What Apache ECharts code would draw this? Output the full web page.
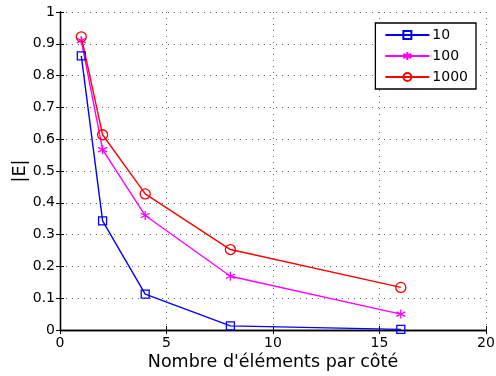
<!DOCTYPE html>
<html><head><meta charset="utf-8">
<script src="https://cdn.jsdelivr.net/npm/echarts@6/dist/echarts.min.js"></script>
<style>html,body{margin:0;padding:0;background:#fff}#c{width:496px;height:376px}</style>
</head><body><div id="c"></div>
<script>
const xValues = [1, 2, 4, 8, 16];
const series10 = [0.862, 0.343, 0.113, 0.013, 0.002];
const series100 = [0.910, 0.567, 0.360, 0.169, 0.050];
const series1000 = [0.922, 0.614, 0.428, 0.253, 0.134];
const seriesNames = ['10', '100', '1000'];
const xTicks = [0, 5, 10, 15, 20];
const yTicks = [0, 0.1, 0.2, 0.3, 0.4, 0.5, 0.6, 0.7, 0.8, 0.9, 1];

const font = 'DejaVu Sans';
const chart = echarts.init(document.getElementById('c'));
const pairs = arr => xValues.map((x, i) => [x, arr[i]]);
const star = 'path://M0,-5L0,5M-4.33,-2.5L4.33,2.5M-4.33,2.5L4.33,-2.5';
function mk(name, data, color, symbol, size) {
  return {
    name, type: 'line', data: pairs(data), xAxisIndex: 0, yAxisIndex: 0,
    symbol, symbolSize: size, showAllSymbol: true,
    lineStyle: { color, width: 1.4 },
    itemStyle: { color: symbol === star ? color : 'rgba(0,0,0,0)', borderColor: color, borderWidth: 1.3 },
    emphasis: { disabled: true }, animation: false
  };
}
const axisLine = { show: true, lineStyle: { color: '#000', width: 1.3 } };
const grid = { show: true, lineStyle: { color: '#666', type: [1, 5], width: 1 } };
chart.setOption({
  animation: false,
  grid: { left: 60, right: 10, top: 12, bottom: 46, containLabel: false, outerBoundsMode: 'none' },
  legend: {
    orient: 'vertical', right: 20, top: 23, data: seriesNames,
    backgroundColor: '#fff', borderColor: '#000', borderWidth: 1.3,
    padding: [5, 8, 5, 9], itemGap: 7, itemWidth: 44, itemHeight: 10,
    textStyle: { fontFamily: font, fontSize: 14, color: '#000', padding: [0, 0, 0, -2] }
  },
  xAxis: [{
    type: 'value', min: 0, max: 20, interval: 5,
    name: "Nombre d'éléments par côté", nameLocation: 'middle', nameGap: 23, nameMoveOverlap: false,
    nameTextStyle: { fontFamily: font, fontSize: 17.5, color: '#000' },
    axisLine, axisTick: { inside: true, length: 4, lineStyle: { color: '#000' } },
    axisLabel: { fontFamily: font, fontSize: 14, color: '#000', margin: 6 },
    splitLine: grid
  }, {
    type: 'value', min: 0, max: 20, interval: 5, position: 'top',
    axisLine, axisTick: { inside: true, length: 4, lineStyle: { color: '#000' } },
    axisLabel: { show: false }, splitLine: { show: false }
  }],
  yAxis: [{
    type: 'value', min: 0, max: 1, interval: 0.1,
    name: '|E|', nameLocation: 'middle', nameGap: 31, nameRotate: 90, nameMoveOverlap: false,
    nameTextStyle: { fontFamily: font, fontSize: 17.5, color: '#000' },
    axisLine, axisTick: { inside: true, length: 4, lineStyle: { color: '#000' } },
    axisLabel: { fontFamily: font, fontSize: 14, color: '#000', margin: 5,
      formatter: v => String(+v.toFixed(1)) },
    splitLine: grid
  }, {
    type: 'value', min: 0, max: 1, interval: 0.1, position: 'right',
    axisLine, axisTick: { inside: true, length: 4, lineStyle: { color: '#000' } },
    axisLabel: { show: false }, splitLine: { show: false }
  }],
  series: [
    mk(seriesNames[0], series10, '#0000ff', 'rect', 8),
    mk(seriesNames[1], series100, '#ff00ff', star, 9),
    mk(seriesNames[2], series1000, '#ff0000', 'circle', 10)
  ]
});
</script></body></html>
